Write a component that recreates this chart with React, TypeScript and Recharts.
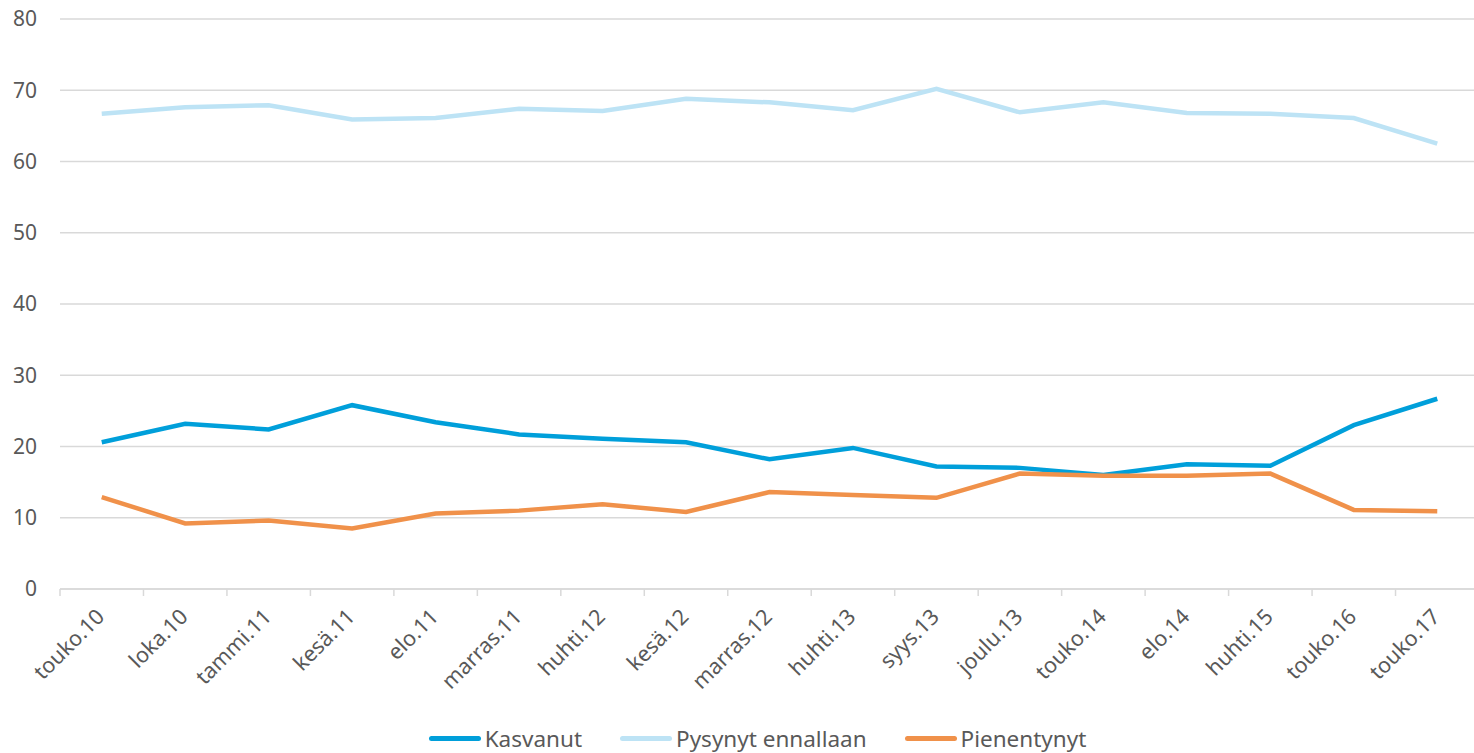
import { CartesianGrid, Legend, Line, LineChart, XAxis, YAxis } from 'recharts'

const months = [
  'touko.10', 'loka.10', 'tammi.11', 'kesä.11', 'elo.11', 'marras.11', 'huhti.12', 'kesä.12',
  'marras.12', 'huhti.13', 'syys.13', 'joulu.13', 'touko.14', 'elo.14', 'huhti.15', 'touko.16', 'touko.17',
]
const kasvanut = [20.6, 23.2, 22.4, 25.8, 23.4, 21.7, 21.1, 20.6, 18.2, 19.8, 17.2, 17.0, 16.0, 17.5, 17.3, 23.0, 26.7]
const pysynyt = [66.7, 67.6, 67.9, 65.9, 66.1, 67.4, 67.1, 68.8, 68.3, 67.2, 70.2, 66.9, 68.3, 66.8, 66.7, 66.1, 62.5]
const pienentynyt = [12.9, 9.2, 9.6, 8.5, 10.6, 11.0, 11.9, 10.8, 13.6, 13.2, 12.8, 16.2, 15.9, 15.9, 16.2, 11.1, 10.9]
const yTicks = [0, 10, 20, 30, 40, 50, 60, 70, 80]

const data = months.map((m, i) => ({
  month: m,
  Kasvanut: kasvanut[i],
  'Pysynyt ennallaan': pysynyt[i],
  Pienentynyt: pienentynyt[i],
}))

const series = [
  { key: 'Kasvanut', color: '#009fda' },
  { key: 'Pysynyt ennallaan', color: '#bde3f5' },
  { key: 'Pienentynyt', color: '#f0914a' },
]

const WIDTH = 1474
const HEIGHT = 753
// plot runs a few px past the right edge, like the original
const MARGIN = { top: 19, right: -5, bottom: 0, left: 0 }
const Y_WIDTH = 60
const bandWidth = (WIDTH - Y_WIDTH - MARGIN.right) / months.length
const font = '"Noto Sans", sans-serif'

// category ticks sit on band edges, labels at the band centre
function MonthTick(props: any) {
  const { x, y, payload } = props
  const ax = x - bandWidth / 2
  return (
    <g>
      <line x1={ax} x2={ax} y1={y - 14} y2={y - 7} stroke="#d9d9d9" strokeWidth={1.5} />
      <g transform={`translate(${x + 4}, ${y + 15})`}>
        <text transform="rotate(-45)" textAnchor="end" fontSize={21.5} fill="#595959" fontFamily={font}>
          {payload.value}
        </text>
      </g>
    </g>
  )
}

function LegendContent() {
  return (
    <div style={{ display: 'flex', justifyContent: 'center', alignItems: 'center', height: 30, gap: 38, fontFamily: font, fontSize: 22.5, color: '#595959', paddingLeft: 36 }}>
      {series.map((s) => (
        <div key={s.key} style={{ display: 'flex', alignItems: 'center' }}>
          <span style={{ display: 'inline-block', width: 52, height: 5, borderRadius: 3, background: s.color, marginRight: 4 }} />
          <span>{s.key}</span>
        </div>
      ))}
    </div>
  )
}

export default function App() {
  return (
    <div style={{ position: 'absolute', left: 0, top: 0, width: WIDTH, height: HEIGHT, background: '#fff', overflow: 'hidden' }}>
      <LineChart width={WIDTH} height={HEIGHT} data={data} margin={MARGIN}>
        <CartesianGrid vertical={false} stroke="#d9d9d9" strokeWidth={1.5} />
        <XAxis
          dataKey="month"
          scale="band"
          interval={0}
          height={134}
          tickLine={false}
          tickSize={7}
          tickMargin={7}
          stroke="#d9d9d9"
          strokeWidth={1.5}
          tick={<MonthTick />}
        />
        <YAxis
          domain={[0, 80]}
          ticks={yTicks}
          width={Y_WIDTH}
          axisLine={false}
          tickLine={false}
          tickMargin={17}
          tick={{ fontSize: 21, fill: '#595959', fontFamily: font }}
        />
        <Legend verticalAlign="bottom" height={30} content={<LegendContent />} />
        {series.map((s) => (
          <Line
            key={s.key}
            dataKey={s.key}
            stroke={s.color}
            strokeWidth={4.5}
            dot={false}
            isAnimationActive={false}
          />
        ))}
      </LineChart>
    </div>
  )
}
